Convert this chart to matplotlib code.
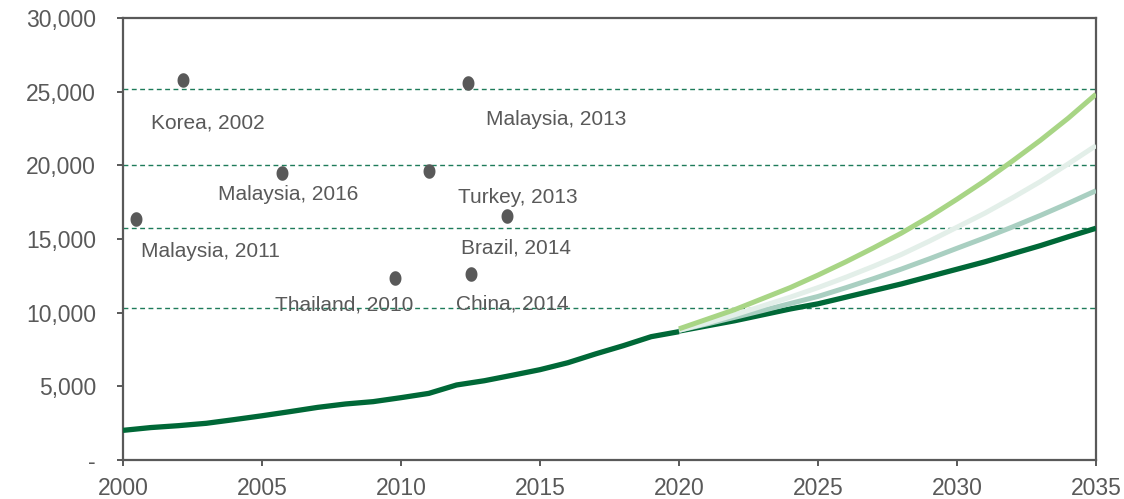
import numpy as np
import matplotlib.pyplot as plt
from matplotlib.path import Path

plt.rcParams['font.family'] = ['Liberation Sans', 'DejaVu Sans']

# historical series
hist_years = list(range(2000, 2021))
hist_vals = [2010, 2200, 2330, 2490, 2740, 3000, 3280, 3570, 3800, 3960, 4230,
             4520, 5090, 5380, 5750, 6130, 6600, 7200, 7760, 8370, 8710]

# projections 2020-2035
proj_years = list(range(2020, 2036))
proj_base = [8750, 9100, 9450, 9850, 10250, 10600, 11050, 11500, 11950, 12450,
             12950, 13450, 14000, 14550, 15150, 15730]
proj_mid = [8800, 9230, 9680, 10140, 10620, 11100, 11690, 12310, 12960, 13650,
            14370, 15080, 15820, 16600, 17420, 18280]
proj_light = [8800, 9300, 9850, 10450, 11050, 11700, 12400, 13150, 13950, 14850,
              15800, 16750, 17800, 18900, 20100, 21340]
proj_high = [8900, 9550, 10200, 10950, 11700, 12550, 13450, 14400, 15400, 16500,
             17700, 18950, 20300, 21700, 23200, 24830]

# reference levels (dashed)
ref_levels = [25200, 20000, 15750, 10330]

# peer points
peer_names = ["Korea, 2002", "Malaysia, 2013", "Malaysia, 2016", "Turkey, 2013",
              "Malaysia, 2011", "Brazil, 2014", "Thailand, 2010", "China, 2014"]
peer_x = [2002.16, 2012.41, 2005.72, 2011.0, 2000.47, 2013.81, 2009.78, 2012.52]
peer_y = [25800, 25600, 19480, 19600, 16360, 16560, 12360, 12630]
label_x = [2003.06, 2015.58, 2005.94, 2014.21, 2003.13, 2014.14, 2007.95, 2014.0]
label_y = [22850, 23120, 17990, 17790, 14180, 14360, 10500, 10570]

grey = '#595959'

fig = plt.figure(figsize=(11.24, 4.99), dpi=100)
ax = fig.add_axes([0.1094, 0.0782, 0.8657, 0.8857])

for lv in ref_levels:
    ax.axhline(lv, color='#1e7b5a', lw=1.0, ls=(0, (3.5, 2.5)), zorder=1)

ax.plot(proj_years, proj_base, color='#006837', lw=3.8, zorder=3,
        solid_capstyle='butt')
ax.plot(proj_years, proj_mid, color='#a9cfc1', lw=3.6, zorder=3,
        solid_capstyle='butt')
ax.plot(proj_years, proj_light, color='#e3efe9', lw=3.6, zorder=3,
        solid_capstyle='butt')
ax.plot(proj_years, proj_high, color='#a8d585', lw=3.6, zorder=3,
        solid_capstyle='butt')
ax.plot(hist_years, hist_vals, color='#006837', lw=3.8, zorder=4,
        solid_capstyle='butt')

t = np.linspace(0, 2 * np.pi, 40)
ellipse = Path(np.column_stack([0.82 * np.cos(t), np.sin(t)]))
ax.scatter(peer_x, peer_y, marker=ellipse, s=110, color=grey, zorder=5,
           linewidths=0)
for name, lx, ly in zip(peer_names, label_x, label_y):
    ax.text(lx, ly, name, ha='center', va='center', fontsize=15,
            color=grey, zorder=6)

ax.set_xlim(2000, 2035)
ax.set_ylim(0, 30000)
ax.set_xticks(range(2000, 2036, 5))
ax.set_yticks(range(0, 30001, 5000))
ax.set_yticklabels(['-' if v == 0 else f"{v:,}" for v in range(0, 30001, 5000)])

for s in ax.spines.values():
    s.set_color(grey)
    s.set_linewidth(1.6)
ax.tick_params(axis='both', colors=grey, labelcolor=grey, labelsize=16.5,
               length=4.5, width=1.4, direction='out')
ax.tick_params(axis='y', pad=15)
ax.tick_params(axis='x', pad=8)

fig.savefig('out.png', dpi=100)
